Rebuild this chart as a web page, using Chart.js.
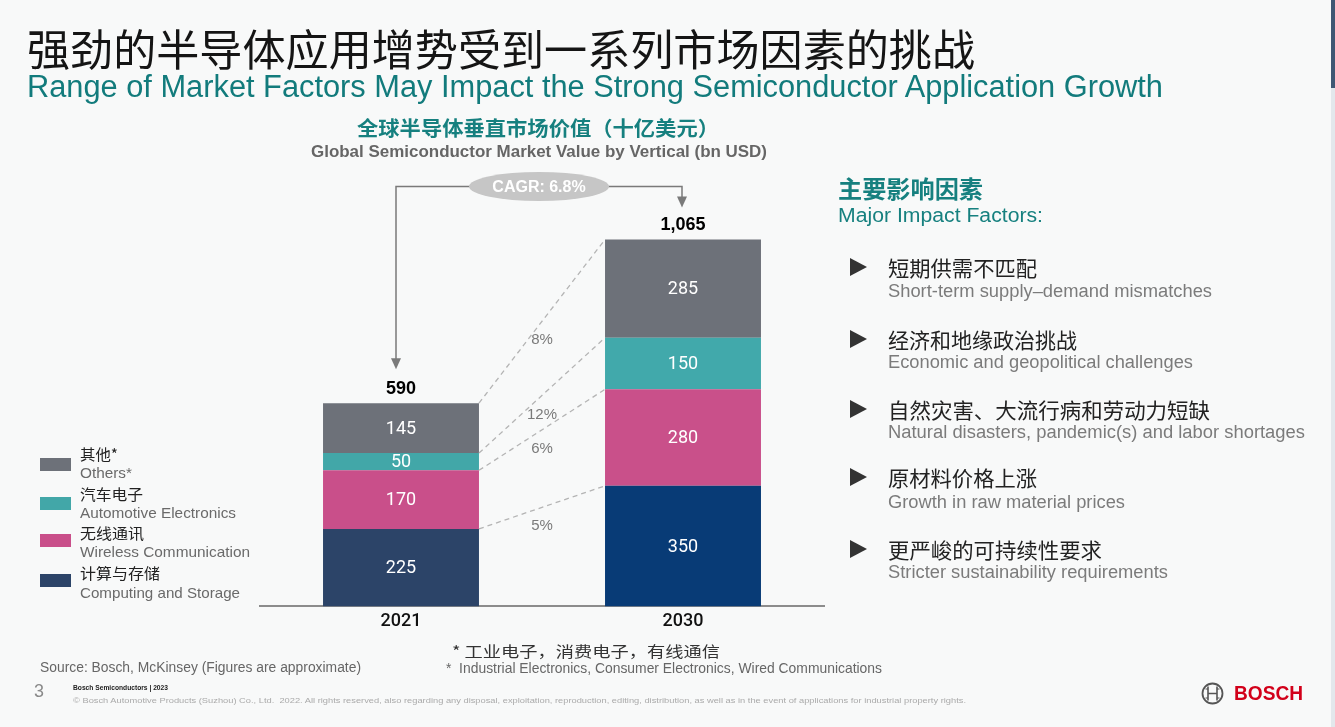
<!DOCTYPE html>
<html>
<head>
<meta charset="utf-8">
<script src="https://cdn.jsdelivr.net/npm/chart.js@4.4.1/dist/chart.umd.min.js"></script>
<style>
  html, body { margin: 0; padding: 0; }
  body {
    width: 1335px; height: 727px; position: relative; overflow: hidden;
    background: #f8f9f9;
    font-family: "Liberation Sans", "Noto Sans CJK SC", sans-serif;
  }
  #chart { position: absolute; left: 0; top: 0; }
  .t { position: absolute; white-space: nowrap; transform-origin: 0 50%; }
  .cn { font-family: "Noto Sans CJK SC", sans-serif; }
  .sw { position: absolute; width: 31px; height: 13px; }
  .edge { position: absolute; left: 1331px; top: 0; width: 4px; height: 727px; background: #e3e8ec; }
  .edge-top { position: absolute; left: 1331px; top: 0; width: 4px; height: 88px; background: #3f5874; }
  #logo { position: absolute; left: 1201px; top: 682px; }
</style>
</head>
<body>
<div class="edge"></div><div class="edge-top"></div>
<canvas id="chart" width="1335" height="727"></canvas>

<!-- titles -->
<div class="t cn" data-x="27" data-y="47" data-s="43" data-w="948" style="color:#151515">强劲的半导体应用增势受到一系列市场因素的挑战</div>
<div class="t" data-x="27" data-y="86" data-s="31" data-w="1136" style="color:#127b7c">Range of Market Factors May Impact the Strong Semiconductor Application Growth</div>
<div class="t cn" data-x="357" data-y="128" data-s="20" data-w="362" style="color:#16807f;font-weight:bold">全球半导体垂直市场价值（十亿美元）</div>
<div class="t" data-x="311" data-y="152" data-s="16" data-w="456" style="color:#666;font-weight:bold">Global Semiconductor Market Value by Vertical (bn USD)</div>

<!-- right panel -->
<div class="t cn" data-x="838" data-y="188" data-s="24" data-w="145" style="color:#16807f;font-weight:bold">主要影响因素</div>
<div class="t" data-x="838" data-y="215" data-s="20" data-w="205" style="color:#16807f">Major Impact Factors:</div>
<div id="factors"></div>

<!-- legend -->
<div id="legend"></div>

<!-- footer -->
<div class="t" data-x="40" data-y="667" data-s="14" data-w="321" style="color:#666">Source: Bosch, McKinsey (Figures are approximate)</div>
<div class="t cn" data-x="452" data-y="650" data-s="15" data-w="268" style="color:#333">* 工业电子，消费电子，有线通信</div>
<div class="t" data-x="446" data-y="667" data-s="15" data-w="436" style="color:#666">*&nbsp; Industrial Electronics, Consumer Electronics, Wired Communications</div>
<div class="t" data-x="34" data-y="690" data-s="19" data-w="10" style="color:#8a8a8a">3</div>
<div class="t" data-x="73" data-y="688" data-s="8" data-w="95" style="color:#222;font-weight:bold">Bosch Semiconductors | 2023</div>
<div class="t" data-x="73" data-y="700" data-s="7" data-w="893" style="color:#aaa">© Bosch Automotive Products (Suzhou) Co., Ltd.&nbsp; 2022. All rights reserved, also regarding any disposal, exploitation, reproduction, editing, distribution, as well as in the event of applications for industrial property rights.</div>
<svg id="logo" width="23" height="23" viewBox="0 0 23 23">
  <circle cx="11.5" cy="11.5" r="10" fill="none" stroke="#555" stroke-width="1.8"/>
  <path d="M7 4.5 V18.5 M16 4.5 V18.5 M7 11.5 H16" stroke="#555" stroke-width="1.6" fill="none"/>
  <path d="M4.5 7 H7 M4.5 16 H7 M16 7 H18.5 M16 16 H18.5" stroke="#555" stroke-width="1.2" fill="none"/>
</svg>
<div class="t" data-x="1234" data-y="693" data-s="20" data-w="69" style="color:#d2001a;font-weight:bold">BOSCH</div>

<script>
// ---- chart data ----
var categories   = ['2021', '2030'];
var computing    = [225, 350];
var wireless     = [170, 280];
var automotive   = [50, 150];
var others       = [145, 285];
var totals       = [590, 1065];
var growthRates  = ['5%', '6%', '12%', '8%'];   // bottom segment to top segment
var cagrLabel    = 'CAGR: 6.8%';

var seriesCn = ['计算与存储', '无线通讯', '汽车电子', '其他*'];
var seriesEn = ['Computing and Storage', 'Wireless Communication', 'Automotive Electronics', 'Others*'];

var factorsCn = ['短期供需不匹配', '经济和地缘政治挑战', '自然灾害、大流行病和劳动力短缺', '原材料价格上涨', '更严峻的可持续性要求'];
var factorsEn = ['Short-term supply–demand mismatches', 'Economic and geopolitical challenges',
                 'Natural disasters, pandemic(s) and labor shortages', 'Growth in raw material prices',
                 'Stricter sustainability requirements'];

// colours per series, one per bar
var colors = [
  ['#2c4468', '#083b76'],
  ['#c94f8a', '#c9508a'],
  ['#42a7a8', '#41a9ab'],
  ['#6d7179', '#6d7179']
];

// ---- legend + right panel (layout only) ----
var legendSwatchY = [574, 534, 497, 458];
var legendCnY     = [572, 532, 493, 453];
var legendEnY     = [592, 551, 512, 472];
var legendCnW     = [80, 64, 63, 38];
var legendEnW     = [160, 170, 156, 52];

var legend = document.getElementById('legend');
seriesCn.forEach(function (name, i) {
  var sw = document.createElement('div');
  sw.className = 'sw';
  sw.style.left = '40px';
  sw.style.top = legendSwatchY[i] + 'px';
  sw.style.background = colors[i][0];
  legend.appendChild(sw);
  legend.insertAdjacentHTML('beforeend',
    '<div class="t cn" data-x="80" data-y="' + legendCnY[i] + '" data-s="15" data-w="' + legendCnW[i] + '" style="color:#222">' + name + '</div>' +
    '<div class="t" data-x="80" data-y="' + legendEnY[i] + '" data-s="15" data-w="' + legendEnW[i] + '" style="color:#6a6a6a">' + seriesEn[i] + '</div>');
});

var factorCnY = [267, 339, 409, 477, 549];
var factorEnY = [291, 362, 432, 502, 572];
var factorCnW = [149, 189, 322, 149, 214];
var factorEnW = [324, 305, 417, 237, 280];
var factors = document.getElementById('factors');
factorsCn.forEach(function (txt, i) {
  factors.insertAdjacentHTML('beforeend',
    '<svg style="position:absolute;left:850px;top:' + (factorCnY[i] - 9) + 'px" width="17" height="18"><path d="M0 0 L17 9 L0 18 Z" fill="#333"/></svg>' +
    '<div class="t cn" data-x="888" data-y="' + factorCnY[i] + '" data-s="21" data-w="' + factorCnW[i] + '" style="color:#222">' + txt + '</div>' +
    '<div class="t" data-x="888" data-y="' + factorEnY[i] + '" data-s="18" data-w="' + factorEnW[i] + '" style="color:#7b7b7b">' + factorsEn[i] + '</div>');
});

// place text: size, position, then stretch to the measured width
function placeTexts() {
  document.querySelectorAll('.t').forEach(function (el) {
    var s = +el.dataset.s;
    el.style.fontSize = s + 'px';
    el.style.lineHeight = s + 'px';
    el.style.left = el.dataset.x + 'px';
    el.style.top = (+el.dataset.y - s / 2) + 'px';
    var w = el.getBoundingClientRect().width;
    if (el.dataset.w && w > 0) el.style.transform = 'scaleX(' + (+el.dataset.w / w) + ')';
  });
}

// ---- overlay: segment values, totals, dashed connectors, CAGR bracket ----
var overlay = {
  id: 'overlay',
  afterDatasetsDraw: function (chart) {
    var ctx = chart.ctx;
    var metas = chart.data.datasets.map(function (d, i) { return chart.getDatasetMeta(i); });
    var n = metas.length;
    ctx.save();

    // dashed connectors between segment tops
    ctx.strokeStyle = '#b4b4b4';
    ctx.lineWidth = 1.3;
    ctx.setLineDash([5, 4]);
    ctx.font = '15px "Liberation Sans"';
    ctx.textAlign = 'center';
    ctx.textBaseline = 'middle';
    metas.forEach(function (m, i) {
      var a = m.data[0], b = m.data[1];
      var x0 = a.x + a.width / 2, x1 = b.x - b.width / 2;
      ctx.beginPath();
      ctx.moveTo(x0, a.y);
      ctx.lineTo(x1, b.y);
      ctx.stroke();
      ctx.fillStyle = '#7a7a7a';
      ctx.fillText(growthRates[i], (x0 + x1) / 2, (a.y + b.y) / 2 + 19);
    });
    ctx.setLineDash([]);

    // values inside segments
    ctx.fillStyle = '#fff';
    ctx.font = '18px Roboto';
    metas.forEach(function (m, i) {
      m.data.forEach(function (el, j) {
        ctx.fillText(chart.data.datasets[i].data[j], el.x, (el.y + el.base) / 2 + 1);
      });
    });

    // totals
    ctx.fillStyle = '#000';
    ctx.font = 'bold 18px "Liberation Sans"';
    var tops = metas[n - 1].data;
    tops.forEach(function (el, j) {
      ctx.fillText(totals[j].toLocaleString('en-US'), el.x, el.y - 14);
    });

    // CAGR bracket
    var xa = tops[0].x - 5, xb = tops[1].x - 1;
    var yTop = Math.min(tops[0].y, tops[1].y) - 53;
    var ya = tops[0].y - 34, yb = tops[1].y - 32;
    ctx.strokeStyle = '#7a7a7a';
    ctx.lineWidth = 1.5;
    ctx.beginPath();
    ctx.moveTo(xa, ya - 9);
    ctx.lineTo(xa, yTop);
    ctx.lineTo(xb, yTop);
    ctx.lineTo(xb, yb - 9);
    ctx.stroke();
    ctx.fillStyle = '#7a7a7a';
    [[xa, ya], [xb, yb]].forEach(function (p) {
      ctx.beginPath();
      ctx.moveTo(p[0] - 5, p[1] - 11);
      ctx.lineTo(p[0] + 5, p[1] - 11);
      ctx.lineTo(p[0], p[1]);
      ctx.closePath();
      ctx.fill();
    });
    var cx = (xa + xb) / 2;
    ctx.fillStyle = '#c6c6c6';
    ctx.beginPath();
    ctx.ellipse(cx, yTop, 70, 14.5, 0, 0, Math.PI * 2);
    ctx.fill();
    ctx.fillStyle = '#fff';
    ctx.font = 'bold 16px "Liberation Sans"';
    ctx.fillText(cagrLabel, cx, yTop + 1);

    ctx.restore();
  }
};

function makeDataset(data, i) {
  return {
    data: data,
    backgroundColor: colors[i],
    borderWidth: 0,
    barPercentage: 0.553,
    categoryPercentage: 1.0
  };
}

function drawChart() {
  new Chart(document.getElementById('chart').getContext('2d'), {
    type: 'bar',
    data: {
      labels: categories,
      datasets: [computing, wireless, automotive, others].map(makeDataset)
    },
    options: {
      responsive: false,
      animation: false,
      layout: { padding: { left: 260, right: 511, top: 193, bottom: 91 } },
      plugins: { legend: { display: false }, tooltip: { enabled: false } },
      scales: {
        x: {
          stacked: true,
          grid: { display: false, drawTicks: false },
          border: { display: true, color: '#8c8c8c', width: 2 },
          ticks: { padding: 4, color: '#111', font: { family: 'Roboto', size: 18, weight: '500' } }
        },
        y: { stacked: true, display: false, min: 0, max: 1200 }
      }
    },
    plugins: [overlay]
  });
}

document.fonts.ready.then(function () {
  placeTexts();
  drawChart();
});
</script>
</body>
</html>
